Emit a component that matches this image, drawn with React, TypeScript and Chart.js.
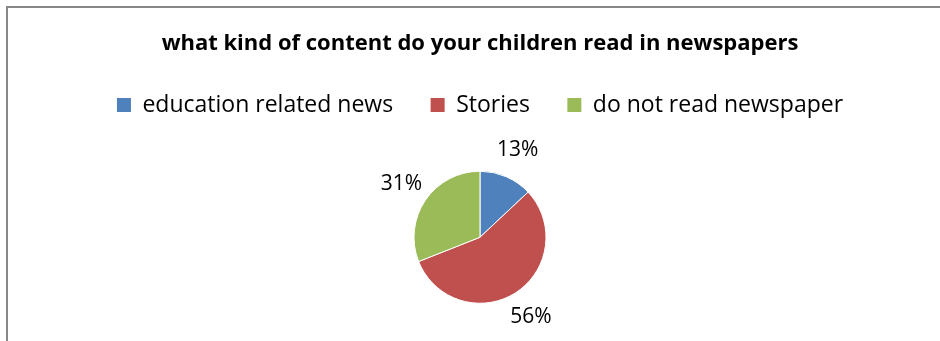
import React, { useEffect, useRef } from "react";
import { Chart, registerables } from "chart.js";

Chart.register(...registerables);

const TITLE = "what kind of content do your children read in newspapers";
const categories = ["education related news", "Stories", "do not read newspaper"];
const values = [13, 56, 31];
const colors = ["#4F81BD", "#C0504D", "#9BBB59"];

const FONT = "'Open Sans', Lato, sans-serif";

const framePlugin = {
  id: "frame",
  beforeDraw(chart: any) {
    const ctx = chart.ctx;
    ctx.save();
    ctx.fillStyle = "#ffffff";
    ctx.fillRect(0, 0, chart.width, chart.height);
    ctx.strokeStyle = "#888888";
    ctx.lineWidth = 2;
    ctx.strokeRect(7, 7, 2000, 2000);
    ctx.restore();
  },
};

const outsideLabels = {
  id: "outsideLabels",
  afterDatasetsDraw(chart: any) {
    const ctx = chart.ctx;
    const meta = chart.getDatasetMeta(0);
    const data = chart.data.datasets[0].data as number[];
    const total = data.reduce((a, b) => a + b, 0);
    ctx.save();
    ctx.font = `21px ${FONT}`;
    ctx.fillStyle = "#000000";
    ctx.textAlign = "center";
    ctx.textBaseline = "middle";
    meta.data.forEach((arc: any, i: number) => {
      const p = arc.getProps(["x", "y", "startAngle", "endAngle", "outerRadius"], true);
      const mid = (p.startAngle + p.endAngle) / 2;
      const r = p.outerRadius + 29;
      const tx = p.x + Math.cos(mid) * r;
      const ty = p.y + Math.sin(mid) * r;
      const pct = Math.round((data[i] / total) * 100) + "%";
      ctx.fillText(pct, tx, ty);
    });
    ctx.restore();
  },
};

export default function App() {
  const ref = useRef<HTMLCanvasElement>(null);
  useEffect(() => {
    if (!ref.current) return;
    const chart = new Chart(ref.current, {
      type: "pie",
      data: {
        labels: categories,
        datasets: [
          {
            data: values,
            backgroundColor: colors,
            borderColor: "#ffffff",
            borderWidth: 1,
          },
        ],
      },
      options: {
        animation: false,
        responsive: false,
        devicePixelRatio: 1,
        radius: 66,
        layout: { padding: { left: 20, right: 0, top: 10, bottom: 0 } },
        plugins: {
          title: {
            display: true,
            text: TITLE,
            color: "#000000",
            font: { family: FONT, size: 22, weight: "bold" },
            padding: { top: 21, bottom: -1.4 },
          },
          legend: {
            display: true,
            position: "top",
            labels: {
              color: "#000000",
              font: { family: FONT, size: 23 },
              boxWidth: 14,
              boxHeight: 14,
              padding: 37.5,
              generateLabels(chart: any) {
                const items = Chart.overrides.pie.plugins.legend.labels.generateLabels(chart);
                return items.map((it: any) => ({ ...it, lineWidth: 0 }));
              },
            },
          },
          tooltip: { enabled: false },
        },
      } as any,
      plugins: [framePlugin, outsideLabels],
    });
    return () => chart.destroy();
  }, []);
  return (
    <div style={{ position: "fixed", left: 0, top: 0, width: 940, height: 341, overflow: "hidden", background: "#fff" }}>
      <canvas ref={ref} width={940} height={348} style={{ display: "block" }} />
    </div>
  );
}
